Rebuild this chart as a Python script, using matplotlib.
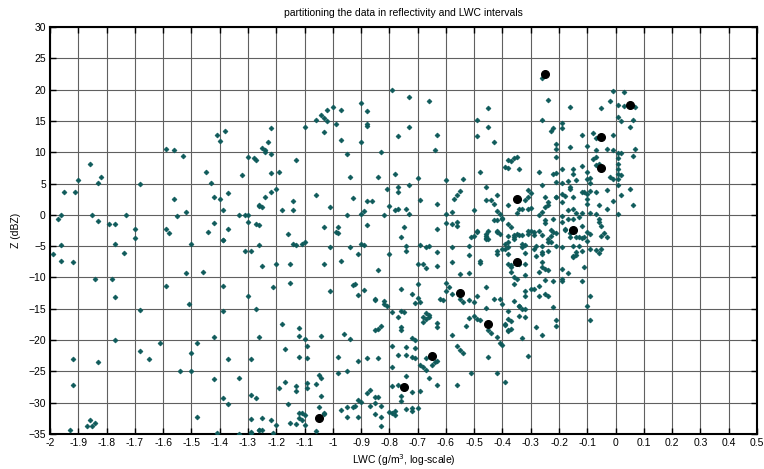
import matplotlib.pyplot as plt
import numpy as np

plt.rcParams['font.family'] = ['Liberation Sans', 'DejaVu Sans']
plt.rcParams['font.size'] = 7.5

# LWC (log10) / reflectivity pairs
lwc = [
    -1.96, -1.97, -1.95, -1.91, -1.90, -1.86, -1.83, -1.82, -1.85, -1.83, -1.79, -1.77, -1.73, -1.70, -1.68,
    -1.59, -1.56, -1.53, -1.56, -1.55, -1.52, -1.59, -1.58, -1.45, -1.43, -1.41, -1.40, -1.38, -1.42, -1.40,
    -1.37, -1.39, -1.42, -1.44, -1.37, -1.39, -1.32, -1.30, -1.28, -1.27, -1.33, -1.31, -1.30, -1.30, -1.27, -1.26,
    -1.99, -1.96, -1.96, -1.92, -1.84, -1.78, -1.77, -1.74, -1.70, -1.77, -1.77, -1.92, -1.92, -1.83, -1.86,
    -1.87, -1.85, -1.84, -1.93, -1.68, -1.68, -1.65, -1.59, -1.61, -1.54, -1.50, -1.50, -1.51, -1.52, -1.50,
    -1.48, -1.48, -1.46, -1.42, -1.42, -1.41, -1.39, -1.39, -1.39, -1.37, -1.39, -1.37, -1.33, -1.33, -1.31,
    -1.29, -1.30, -1.29, -1.27, -1.27, -1.29, -1.29, -1.26, -1.26, -1.26,
    -1.26, -1.26, -1.25, -1.24, -1.22, -1.20, -1.18, -1.14, -1.14, -1.22, -1.19, -1.13, -1.25, -1.24, -1.24,
    -1.22, -1.23, -1.22, -1.16, -1.10, -1.06, -1.04, -1.03, -1.02, -1.02, -1.00, -1.03, -0.99, -0.97, -0.97,
    -0.95, -0.94, -1.06, -1.01, -1.03, -0.98, -0.99, -0.93, -0.95, -0.90, -0.88, -0.88, -0.88, -0.90, -0.83,
    -0.84, -0.88, -0.86, -0.89, -0.90, -0.88, -0.82, -0.81, -0.77, -0.77, -0.80, -0.78, -0.77, -0.78, -0.77,
    -0.79, -0.73, -0.73, -0.73, -0.70, -0.74, -0.73, -0.75, -0.69, -0.66, -0.63, -0.64, -0.63, -0.60, -0.60,
    -0.58, -0.60, -0.58, -0.56, -0.56, -0.63, -0.57, -0.56, -0.55, -0.54, -0.50, -0.49, -0.49, -0.45, -0.45,
    -0.43, -0.48, -0.46, -0.46, -0.44, -0.43, -0.42, -0.42, -0.41, -0.43, -0.42, -0.40, -0.38, -0.39, -0.38,
    -0.51, -0.49, -0.45, -0.46, -0.46, -0.42,
    -1.14, -1.13, -1.11, -1.10, -1.01, -0.98, -1.25, -1.20, -1.15, -1.03, -0.97, -0.94, -0.91, -0.90, -0.89,
    -0.84, -0.80, -0.76, -0.74, -0.74, -0.69, -0.66, -0.67, -0.63, -0.68, -0.67, -0.63, -0.70, -0.58, -0.52,
    -0.52, -0.58, -0.48, -0.48, -0.50, -0.49, -0.46, -0.46, -0.45, -0.42, -0.42, -0.42, -0.39, -0.38, -0.38,
    -0.55, -0.52, -0.60, -0.59, -0.60, -0.58, -0.62, -0.61, -0.55, -0.54, -0.52, -0.50, -0.49, -0.46, -0.43,
    -0.41, -0.46, -0.52, -0.50, -0.49, -0.48, -0.53, -0.45, -0.44, -0.42, -0.41, -0.39, -0.38, -0.58, -0.56,
    -0.55, -0.54, -0.56, -0.51, -0.42, -0.45, -0.70, -0.76, -0.81, -0.85, -0.85, -0.82, -0.82, -0.76, -0.75,
    -0.79, -0.70, -0.69, -0.71, -0.72, -0.77, -0.76, -0.76, -0.83, -0.85, -0.84, -0.67, -0.66, -0.66, -0.68,
    -0.67, -0.68, -0.63, -0.63, -0.72, -0.71, -0.79, -0.74, -0.77, -0.74, -0.72, -0.71, -0.71, -0.67, -0.69,
    -0.68, -0.63, -0.64, -0.65, -0.67, -0.66, -0.63, -0.79, -0.74, -0.77, -0.79, -0.72, -0.69, -0.76, -0.76,
    -0.78, -0.79, -0.78, -0.74, -0.72, -0.72, -0.70, -0.80, -0.91, -0.88, -0.84, -0.95, -0.98, -0.98, -1.01,
    -0.93, -0.92, -0.91, -0.89, -0.96, -0.94, -0.85, -0.85, -0.84, -0.87, -0.88, -0.91, -0.90, -0.95, -0.93,
    -0.92, -0.97, -0.95, -0.91, -0.87, -0.83, -0.85, -0.83, -0.83, -1.05, -1.04, -1.09, -1.06, -1.09, -1.13,
    -1.13, -1.19, -1.17, -1.04, -1.16, -1.05, -1.12, -1.11, -1.10, -1.12, -1.11, -1.13, -1.10, -1.15, -1.03,
    -1.03, -1.06, -1.25, -1.22, -1.20, -1.21, -1.25, -1.26, -1.29, -1.29, -1.18, -1.12, -1.12, -1.10, -1.09,
    -1.17, -1.12, -1.09, -1.04, -1.15, -1.21,
    -0.26, -0.24, -0.16, -0.26, -0.23, -0.22, -0.19, -0.19, -0.21, -0.21, -0.21, -0.16, -0.12, -0.10, -0.08,
    -0.07, -0.05, -0.02, -0.01, 0.03, 0.01, 0.03, 0.07, 0.01, 0.02, 0.06, 0.05, -0.01, -0.03, -0.01,
    0.01, 0.02, 0.07, 0.06, -0.07, -0.07, -0.08, -0.07, -0.06, 0.01, 0.01, 0.01, 0.01, 0.01, 0.02,
    -0.01, -0.02, -0.03, 0.01, 0.02, 0.05, -0.01, -0.03, 0.01, 0.06, -0.06, -0.07, -0.06, -0.06, -0.05,
    -0.04, -0.07, -0.09, -0.10, -0.12, -0.11, -0.10, -0.10, -0.09, -0.10, -0.10, -0.12, -0.09, -0.15, -0.15,
    -0.14, -0.16, -0.19, -0.22, -0.21, -0.21, -0.19, -0.17, -0.16, -0.19, -0.18, -0.21, -0.21, -0.19, -0.17,
    -0.15, -0.14, -0.12, -0.09, -0.15, -0.13, -0.15, -0.17, -0.19, -0.19, -0.18, -0.12, -0.10, -0.13, -0.16,
    -0.25, -0.24, -0.24, -0.25, -0.26, -0.27, -0.31, -0.30, -0.32, -0.33, -0.31, -0.35, -0.31, -0.34, -0.37,
    -0.36, -0.35, -0.38, -0.34, -0.40, -0.38, -0.37, -0.36, -0.35, -0.31, -0.29, -0.27, -0.23, -0.22, -0.25,
    -0.22, -0.25, -0.30, -0.26, -0.27,
    -0.41, -0.38, -0.36, -0.34, -0.33, -0.31, -0.30, -0.29, -0.26, -0.24, -0.23, -0.21, -0.18, -0.16, -0.14,
    -0.12, -0.11, -0.10, -0.09, -0.05, -0.03, -0.07, -0.06, -0.05, -0.09, -0.12, -0.14, -0.15, -0.15, -0.14,
    -0.15, -0.13, -0.19, -0.21, -0.23, -0.24, -0.26, -0.26, -0.24, -0.28, -0.29, -0.32, -0.33, -0.32, -0.33,
    -0.39, -0.38, -0.40, -0.36, -0.38, -0.37, -0.37, -0.32, -0.34, -0.28, -0.26, -0.26, -0.27, -0.26, -0.25,
    -0.24, -0.25, -0.22, -0.19, -0.17, -0.19, -0.19, -0.11, -0.12, -0.37, -0.36, -0.35, -0.36, -0.32, -0.30,
    -0.29, -0.32, -0.32, -0.27, -0.27, -0.25, -0.24, -0.36, -0.34, -0.34, -0.33, -0.32, -0.40, -0.38, -0.22,
    -0.09, -0.10, -0.34, -0.32, -0.38, -0.37, -0.39, -0.38, -0.37, -0.21, -0.21, -0.09, -0.28, -0.26, -0.33,
    -0.40, -0.31, -0.39,
]
dbz = [
    0.0, -0.7, 3.6, 3.6, 5.5, 8.1, 5.1, 6.0, 0.0, -1.0, -1.5, -1.4, 0.0, -2.2, 4.9,
    10.5, 10.3, 9.4, 2.5, -0.2, 0.4, -2.2, -2.9, 6.8, 5.1, 12.8, 11.8, 13.4, 2.8, 2.6,
    3.5, 0.8, -1.3, -2.8, -2.3, -4.0, 6.4, 9.3, 9.1, 8.8, 0.0, 0.0, 0.0, -1.2, -1.5, 1.4,
    -6.3, -4.8, -7.4, -7.5, -10.2, -10.2, -4.7, -6.1, -3.7, -13.2, -20.0, -23.1, -27.1, -23.5, -32.8,
    -33.8, -33.8, -33.3, -34.3, -15.2, -21.8, -23.1, -11.3, -20.5, -24.9, -24.9, -22.1, -14.3, -9.3, -4.6,
    -20.4, -32.3, -9.2, -19.5, -26.2, -34.8, -4.0, -11.3, -15.4, -23.0, -29.2, -30.2, -26.0, -35.0, -5.8,
    -5.8, -12.9, -23.0, -15.1, -29.2, -32.6, -34.7, -34.4, -4.8, -19.5,
    -1.6, 1.5, 1.3, 2.9, 3.6, 4.2, 0.8, 2.2, 0.7, 6.7, 6.9, 8.7, 10.6, 10.4, 10.0,
    9.7, 11.7, 13.9, -3.1, 14.1, 15.1, 16.0, 15.4, 15.0, 16.7, 17.2, 13.2, 14.5, 16.7, 11.9,
    9.7, 6.0, 3.2, 1.2, -2.0, -2.0, -2.8, 2.7, 0.0, 17.9, 16.6, 14.5, 14.2, 11.7, 10.1,
    6.1, 2.2, 2.2, 0.6, 0.1, -1.6, 0.0, 4.2, 4.4, 3.6, 1.4, 0.7, 1.0, 6.5, 12.6,
    19.9, 18.9, 14.1, 4.8, 5.9, 0.9, 0.2, -2.0, 2.3, 18.2, 12.7, 10.4, 1.8, 5.5, 0.2,
    0.4, -1.3, -1.4, -1.1, -1.8, -2.2, 2.5, 3.1, 3.8, 5.7, 0.7, 15.1, 12.6, 17.1, 14.0,
    11.6, 6.8, 4.5, 2.3, 2.3, 1.8, 3.2, 0.6, 0.2, -0.9, -0.8, -0.5, 8.8, 7.7, 1.6,
    -3.5, -2.6, -2.6, -3.7, -3.4, -2.6,
    -4.6, -4.8, -4.6, -4.3, -5.2, -2.9, -8.2, -7.8, -7.9, -7.8, -7.4, -5.2, -6.3, -4.6, -4.8,
    -8.8, -6.2, -3.5, -4.9, -5.7, -4.8, -4.9, -5.2, -5.9, -7.9, -8.5, -8.1, -7.8, -5.2, -4.9,
    -6.4, -7.6, -7.7, -7.4, -3.3, -2.8, -3.0, -3.8, -3.8, -2.7, -6.3, -5.7, -5.4, -5.1, -7.8,
    -9.4, -9.3, -10.9, -11.5, -12.1, -12.6, -13.5, -13.6, -13.5, -13.9, -13.6, -13.9, -12.9, -11.5, -13.4,
    -13.5, -14.8, -16.4, -16.1, -16.7, -16.8, -17.8, -18.4, -18.8, -19.5, -20.4, -17.4, -18.5, -19.2, -21.0,
    -21.6, -22.0, -27.1, -25.2, -25.3, -22.7, -11.1, -11.9, -14.5, -13.4, -13.6, -13.8, -14.3, -15.3, -15.5,
    -15.5, -13.3, -13.9, -14.1, -12.6, -16.3, -17.9, -18.4, -17.8, -18.4, -18.3, -15.6, -16.3, -16.0, -16.3,
    -16.7, -17.1, -17.9, -17.2, -19.7, -20.0, -21.0, -21.1, -22.4, -22.4, -22.7, -22.9, -21.2, -22.8, -24.0,
    -24.3, -23.3, -23.5, -24.0, -24.8, -26.1, -27.1, -24.3, -25.7, -27.1, -27.3, -28.3, -28.1, -29.0, -29.8,
    -31.3, -31.6, -31.9, -31.0, -31.4, -30.8, -30.9, -31.5, -23.3, -22.8, -22.8, -25.0, -25.2, -22.7, -12.2,
    -11.2, -11.1, -12.8, -12.0, -19.1, -19.9, -30.1, -29.1, -29.1, -28.0, -28.5, -29.6, -29.9, -30.7, -30.7,
    -30.6, -31.2, -32.3, -32.3, -30.6, -30.5, -31.8, -32.3, -33.8, -25.6, -26.0, -26.9, -27.0, -27.7, -27.3,
    -28.2, -27.7, -26.7, -28.9, -30.2, -30.7, -31.7, -31.7, -31.9, -32.5, -32.8, -33.4, -33.5, -33.3, -31.6,
    -31.8, -34.5, -32.4, -32.7, -33.5, -34.8, -34.4, -34.4, -34.9, -28.8, -17.4, -18.0, -19.4, -19.8, -21.0,
    -21.5, -22.7, -22.9, -19.4, -10.9, -11.5,
    21.9, 18.3, 17.2, 15.1, 13.4, 13.8, 14.6, 13.8, 11.3, 10.5, 9.3, 10.8, 12.7, 11.0, 13.1,
    12.3, 17.1, 18.2, 19.7, 19.6, 17.5, 17.4, 17.3, 15.7, 15.0, 15.1, 14.0, 12.7, 10.5, 10.4,
    9.9, 9.8, 10.5, 9.4, 10.4, 9.3, 8.9, 8.0, 8.1, 9.0, 8.2, 7.3, 6.6, 5.8, 6.4,
    5.7, 6.1, 4.0, 4.7, 3.2, 4.2, 2.2, 1.0, 0.2, 1.6, 1.5, 0.1, -0.7, -1.2, -1.8,
    -2.9, 3.7, 3.8, 3.4, 3.6, 3.6, 2.6, 1.7, 5.1, 5.7, 6.8, 7.8, 5.9, 7.3, 6.6,
    5.5, 4.5, 7.4, 6.5, 6.7, 5.2, 5.1, 5.4, 4.2, 3.3, 3.0, 2.9, 2.8, 2.1, 0.8,
    2.8, 0.3, 0.3, 0.3, 1.0, -0.4, -0.6, -0.6, -0.2, -1.1, -2.3, -1.8, -2.8, -3.5, -3.6,
    2.9, 2.1, 1.5, 1.2, 4.8, 6.9, 4.0, 3.5, 2.4, 0.9, 1.0, 0.3, 2.9, 0.9, 8.6,
    9.0, 9.2, 7.5, 7.4, -0.7, -1.5, -2.0, -3.2, -3.0, -2.6, -2.7, -2.6, -2.4, -2.7, -1.3,
    -0.7, -0.8, 1.1, 0.5, 0.0,
    -3.0, -3.3, -3.6, -3.2, -3.2, -3.0, -2.6, -3.2, -3.2, -3.8, -3.4, -2.9, -2.5, -2.9, -3.6,
    -3.7, -3.6, -4.2, -3.0, -3.3, -3.5, -5.6, -6.1, -5.5, -5.4, -5.7, -6.0, -6.7, -6.6, -6.4,
    -4.9, -4.9, -5.1, -5.0, -4.3, -4.4, -5.0, -5.9, -5.7, -4.9, -5.5, -6.1, -4.6, -4.8, -5.2,
    -4.6, -4.3, -5.5, -3.9, -6.2, -8.0, -8.3, -7.9, -7.8, -6.5, -6.3, -7.5, -9.2, -8.4, -8.6,
    -8.8, -10.4, -10.6, -8.7, -9.3, -10.3, -10.5, -8.4, -10.6, -9.2, -9.9, -10.2, -11.0, -9.6, -11.8,
    -11.9, -12.2, -12.9, -11.3, -13.0, -12.6, -12.9, -13.7, -14.5, -14.6, -15.1, -15.1, -14.3, -15.3, -14.7,
    -12.9, -14.6, -16.1, -16.3, -16.7, -17.0, -17.6, -18.4, -18.2, -16.8, -17.8, -16.8, -17.9, -19.2, -19.6,
    -20.8, -22.6, -26.7,
]

# class means of each (LWC, Z) interval
lwc_mean = [-1.05, -0.75, -0.65, -0.55, -0.45, -0.35, -0.35, -0.25, -0.15, -0.05, -0.05, 0.05]
dbz_mean = [-32.5, -27.5, -22.5, -12.5, -17.5, 2.5, -7.5, 22.5, -2.5, 12.5, 7.5, 17.5]

fig = plt.figure(figsize=(7.64, 4.69), dpi=100)
ax = fig.add_axes([50 / 764, 1 - 434 / 469, 707 / 764, 407 / 469])

ax.plot(lwc, dbz, linestyle='none', marker='D', markersize=2.5, color='#0e5a5a',
        markeredgewidth=0.5, zorder=3)
ax.plot(lwc_mean, dbz_mean, linestyle='none', marker='o', markersize=5.5, color='black', zorder=4)

ax.set_xlim(-2, 0.5)
ax.set_ylim(-35, 30)
xt = np.round(np.arange(-2, 0.51, 0.1), 1)
ax.set_xticks(xt)
ax.set_xticklabels(['%g' % v for v in xt])
ax.set_yticks(np.arange(-35, 31, 5))
ax.grid(True, color='#606060', linewidth=0.8, linestyle='-')
ax.set_axisbelow(True)
ax.tick_params(direction='in', top=True, right=True, length=4, width=1, pad=3)
for s in ax.spines.values():
    s.set_linewidth(1.5)

ax.set_title('partitioning the data in reflectivity and LWC intervals', fontsize=7.5, pad=8)
ax.set_xlabel('LWC (g/m$^3$, log-scale)', labelpad=3)
ax.set_ylabel('Z (dBZ)', labelpad=5)

plt.savefig('out.png', dpi=100)
